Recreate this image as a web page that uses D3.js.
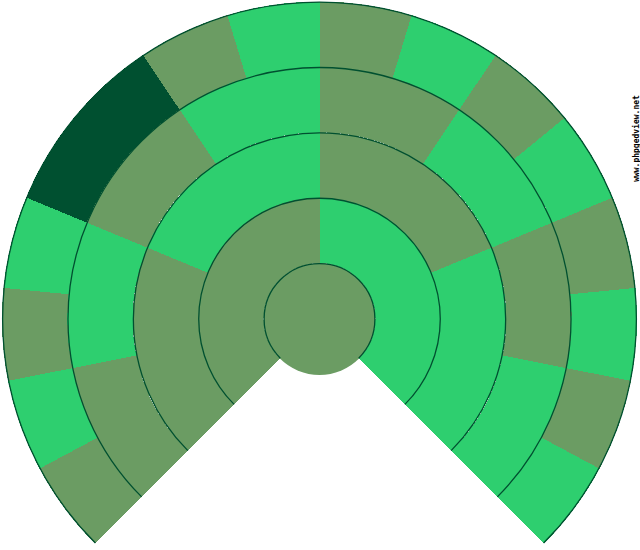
<!DOCTYPE html>
<html>
<head>
<meta charset="utf-8">
<script src="https://cdn.jsdelivr.net/npm/d3@7"></script>
<style>
  body { margin: 0; background: #fff; }
  svg { display: block; }
</style>
</head>
<body>
<div id="fan"></div>
<script>
  // ancestors per generation, left to right (M = father side colour, F = mother side, U = unknown)
  var gen0 = ["M"];
  var gen1 = ["M", "F"];
  var gen2 = ["M", "F", "M", "F"];
  var gen3 = ["M", "F", "M", "F", "M", "F", "M", "F"];
  var gen4 = ["M", "F", "M", "F", "U", "U", "M", "F", "M", "F", "M", "F", "M", "F", "M", "F"];
  var generations = [gen1, gen2, gen3, gen4];
  var watermark = "www.phpgedview.net";

  var width = 640, height = 550;
  var cx = 319.5, cy = 319;
  var fanStart = -3 * Math.PI / 4, fanEnd = 3 * Math.PI / 4;

  var colors = { M: "#6b9c63", F: "#2ecf6f", U: "#005030" };
  var lineColor = "#005030";

  var radius = d3.scaleLinear().domain([0, 4]).range([56, 317.5]);

  var svg = d3.select("#fan").append("svg")
    .attr("width", width)
    .attr("height", height);

  var g = svg.append("g").attr("transform", "translate(" + cx + "," + cy + ")");

  // root person: full circle
  g.append("circle")
    .attr("r", radius(0))
    .attr("fill", colors[gen0[0]]);

  var arc = d3.arc();

  generations.forEach(function (people, i) {
    var angle = d3.scaleLinear().domain([0, people.length]).range([fanStart, fanEnd]);
    g.append("g")
      .attr("class", "gen" + (i + 1))
      .selectAll("path")
      .data(people)
      .join("path")
      .attr("shape-rendering", "crispEdges")
      .attr("fill", function (d) { return colors[d]; })
      .attr("d", function (d, j) {
        return arc({
          innerRadius: radius(i),
          outerRadius: radius(i + 1),
          startAngle: angle(j),
          endAngle: angle(j + 1)
        });
      });
  });

  // ring outlines
  g.append("g")
    .selectAll("path")
    .data(d3.range(0, generations.length + 1))
    .join("path")
    .attr("fill", "none")
    .attr("stroke", lineColor)
    .attr("stroke-width", 1.3)
    .attr("d", function (k) {
      var p = d3.path();
      var r = radius(k) - 0.6;
      p.arc(0, 0, r, fanStart - Math.PI / 2, fanEnd - Math.PI / 2);
      return p.toString();
    });

  svg.append("text")
    .attr("transform", "translate(638.5,138.5) rotate(-90)")
    .attr("text-anchor", "middle")
    .attr("font-family", "DejaVu Sans Mono, monospace")
    .attr("font-size", 8)
    .attr("font-weight", "bold")
    .attr("fill", "#000")
    .text(watermark);
</script>
</body>
</html>
